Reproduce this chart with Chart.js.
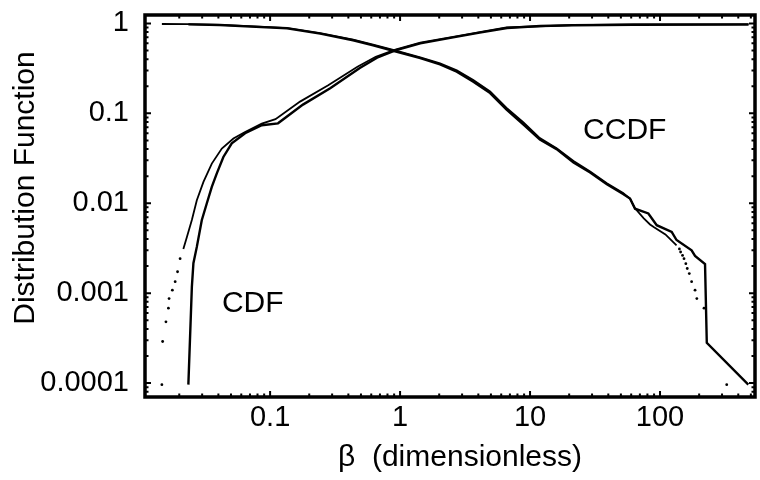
<!DOCTYPE html>
<html>
<head>
  <meta charset="utf-8">
  <title>Distribution Function</title>
  <script src="https://cdn.jsdelivr.net/npm/chart.js@4/dist/chart.umd.min.js"></script>
  <style>
    body { margin: 0; background: #fff; }
    #wrap { width: 760px; height: 480px; }
  </style>
</head>
<body>
  <div id="wrap"><canvas id="myChart" width="760" height="480"></canvas></div>
  <script>
    // tick labels
    var xTickLabels = ['0.1', '1', '10', '100'];
    var yTickLabels = ['0.0001', '0.001', '0.01', '0.1', '1'];

    // CDF, solid line
    var cdfX = [0.0235, 0.025, 0.0257, 0.0273, 0.0298, 0.0326, 0.0356, 0.0389, 0.0437, 0.0507, 0.0642, 0.0863, 0.115, 0.179, 0.29, 0.49, 0.665, 0.92, 1.43, 2.56, 4.1, 6.65, 12, 21.4, 62, 480];
    var cdfY = [0.000096, 0.00117, 0.00215, 0.00327, 0.00648, 0.01, 0.0152, 0.0215, 0.0327, 0.0464, 0.060, 0.0736, 0.0774, 0.125, 0.19, 0.32, 0.415, 0.50, 0.60, 0.70, 0.79, 0.89, 0.935, 0.955, 0.965, 0.97];

    // CDF, dotted (dense part)
    var cdfDotX = [0.0215, 0.0229, 0.025, 0.0273, 0.0307, 0.0356, 0.0425, 0.0522, 0.0642, 0.0863, 0.11, 0.17, 0.28, 0.47, 0.65, 0.92, 1.43, 2.56, 4.1, 6.6, 21, 62, 480];
    var cdfDotY = [0.0031, 0.0042, 0.0065, 0.0108, 0.0173, 0.0276, 0.0405, 0.0524, 0.062, 0.0769, 0.086, 0.135, 0.205, 0.33, 0.425, 0.51, 0.61, 0.71, 0.80, 0.90, 0.955, 0.975, 0.98];
    // CDF, dotted (sparse tail)
    var cdfTailX = [0.0147, 0.0149, 0.0158, 0.0165, 0.0167, 0.0177, 0.0186, 0.0194, 0.0203];
    var cdfTailY = [0.000096, 0.00029, 0.00048, 0.00068, 0.00087, 0.00108, 0.00134, 0.00173, 0.00242];

    // CCDF, solid line
    var ccdfX = [0.0235, 0.041, 0.135, 0.243, 0.435, 0.62, 0.915, 1.43, 2.03, 2.73, 3.66, 4.93, 6.6, 8.9, 11.9, 16, 21.6, 29, 39, 52, 58.8, 64.2, 81.3, 94.3, 123, 134, 175, 186, 222, 229, 478];
    var ccdfY = [0.975, 0.96, 0.88, 0.77, 0.65, 0.57, 0.49, 0.41, 0.35, 0.29, 0.225, 0.168, 0.11, 0.075, 0.051, 0.04, 0.0284, 0.022, 0.0163, 0.0127, 0.0113, 0.0087, 0.0077, 0.0057, 0.0048, 0.0039, 0.0030, 0.0026, 0.0021, 0.00028, 0.000096];

    // CCDF, dotted (dense part)
    var ccdfDotX = [0.0147, 0.0235, 0.041, 0.135, 0.243, 0.435, 0.62, 0.915, 1.43, 2.03, 2.73, 3.66, 4.93, 6.6, 8.9, 11.9, 16, 21.6, 29, 39, 52, 58.8, 64.2, 75, 83.8, 90, 110, 134];
    var ccdfDotY = [0.985, 0.98, 0.965, 0.89, 0.78, 0.66, 0.58, 0.50, 0.42, 0.36, 0.30, 0.235, 0.175, 0.115, 0.079, 0.053, 0.041, 0.0295, 0.0225, 0.0167, 0.013, 0.0112, 0.0088, 0.0068, 0.0058, 0.0054, 0.0045, 0.0034];
    // CCDF, dotted (sparse tail)
    var ccdfTailX = [141, 144, 149, 153, 158, 162, 168, 175, 186, 192, 218, 326];
    var ccdfTailY = [0.0031, 0.00287, 0.00263, 0.00242, 0.00213, 0.00188, 0.00165, 0.00134, 0.00108, 0.00087, 0.00068, 0.000096];

    var curveLabels = [
      { text: 'CDF', x: 0.0426, y: 0.00077 },
      { text: 'CCDF', x: 25.6, y: 0.0646 }
    ];

    var FONT = "'Liberation Sans', Arial, sans-serif";

    function pts(xs, ys) {
      return xs.map(function (v, i) { return { x: v, y: ys[i] }; });
    }

    function lineSet(label, xs, ys, width) {
      return {
        label: label, data: pts(xs, ys),
        borderColor: '#000', backgroundColor: '#000',
        borderWidth: width, pointRadius: 0, tension: 0, fill: false
      };
    }

    function dotSet(label, xs, ys) {
      return {
        label: label, data: pts(xs, ys), showLine: false,
        borderColor: '#000', backgroundColor: '#000',
        pointRadius: 1.4, pointBorderWidth: 0
      };
    }

    // frame, inner tick marks, axis titles and curve labels
    var framePlugin = {
      id: 'frame',
      afterDatasetsDraw: function (chart) {
        var ctx = chart.ctx, a = chart.chartArea;
        var xs = chart.scales.x, ys = chart.scales.y;
        ctx.save();
        ctx.strokeStyle = '#000';
        ctx.lineWidth = 2;
        function marks(scale, horiz) {
          var lo = Math.floor(Math.log10(scale.min)), hi = Math.ceil(Math.log10(scale.max));
          for (var n = lo; n <= hi; n++) {
            for (var k = 1; k <= 9; k++) {
              var v = k * Math.pow(10, n);
              if (v < scale.min || v > scale.max) continue;
              var p = scale.getPixelForValue(v);
              var len = k === 1 ? 6 : 3.5;
              ctx.beginPath();
              if (horiz) {
                ctx.moveTo(p, a.bottom); ctx.lineTo(p, a.bottom - len);
                ctx.moveTo(p, a.top); ctx.lineTo(p, a.top + len);
              } else {
                ctx.moveTo(a.left, p); ctx.lineTo(a.left + len, p);
                ctx.moveTo(a.right, p); ctx.lineTo(a.right - len, p);
              }
              ctx.stroke();
            }
          }
        }
        marks(xs, true);
        marks(ys, false);
        ctx.lineWidth = 3.5;
        ctx.strokeRect(a.left, a.top, a.right - a.left, a.bottom - a.top);

        ctx.fillStyle = '#000';
        ctx.font = '30px ' + FONT;
        ctx.textBaseline = 'middle';
        ctx.textAlign = 'left';
        curveLabels.forEach(function (l) {
          ctx.fillText(l.text, xs.getPixelForValue(l.x), ys.getPixelForValue(l.y));
        });

        ctx.textAlign = 'center';
        ctx.fillText('\u03b2  (dimensionless)', 460, 458);
        ctx.translate(26, 188);
        ctx.rotate(-Math.PI / 2);
        ctx.fillText('Distribution Function', 0, 0);
        ctx.restore();
      }
    };

    function logAxis(labels, min, max, isX) {
      return {
        type: 'logarithmic',
        min: min, max: max,
        grid: { display: false, drawTicks: false },
        border: { display: false },
        ticks: {
          color: '#000',
          font: { family: FONT, size: 29 },
          padding: isX ? 4 : 16,
          autoSkip: false,
          maxRotation: 0,
          callback: function (value) {
            for (var i = 0; i < labels.length; i++) {
              if (Math.abs(Number(labels[i]) - value) < value * 1e-6) return labels[i];
            }
            return '';
          }
        },
        afterBuildTicks: function (scale) {
          scale.ticks = labels.map(function (l) { return { value: Number(l) }; });
        },
        afterFit: function (scale) {
          if (isX) {
            scale.height = 83;
            scale.paddingLeft = 0; scale.paddingRight = 0;
          } else {
            scale.width = 145;
            scale.paddingTop = 0; scale.paddingBottom = 0;
          }
        }
      };
    }

    var ctx = document.getElementById('myChart').getContext('2d');
    new Chart(ctx, {
      type: 'line',
      data: {
        datasets: [
          lineSet('CDF', cdfX, cdfY, 2.4),
          lineSet('CDF dotted', cdfDotX, cdfDotY, 1.8),
          dotSet('CDF tail', cdfTailX, cdfTailY),
          lineSet('CCDF', ccdfX, ccdfY, 2.4),
          lineSet('CCDF dotted', ccdfDotX, ccdfDotY, 1.8),
          dotSet('CCDF tail', ccdfTailX, ccdfTailY)
        ]
      },
      options: {
        responsive: false,
        animation: false,
        layout: { padding: { top: 15, right: 5, left: 0, bottom: 0 } },
        plugins: { legend: { display: false }, tooltip: { enabled: false } },
        scales: {
          x: logAxis(xTickLabels, 0.0109, 538, true),
          y: logAxis(yTickLabels, 0.000074, 1.24, false)
        }
      },
      plugins: [framePlugin]
    });
  </script>
</body>
</html>
